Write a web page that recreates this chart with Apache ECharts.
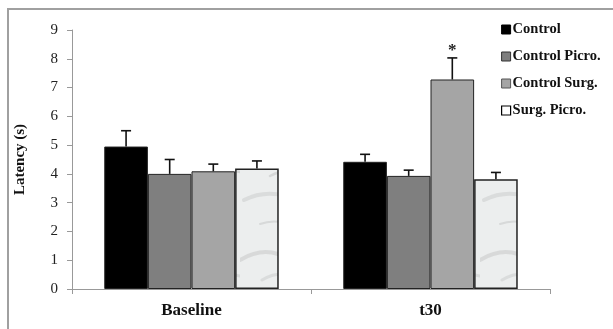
<!DOCTYPE html>
<html>
<head>
<meta charset="utf-8">
<script src="https://cdn.jsdelivr.net/npm/echarts@6/dist/echarts.min.js"></script>
</head>
<body style="margin:0;background:#fff">
<div id="main" style="width:613px;height:329px"></div>
<script>
// data
var categories = ['Baseline', 't30'];
var seriesNames = ['Control', 'Control Picro.', 'Control Surg.', 'Surg. Picro.'];
var controlMean = [4.95, 4.42];
var controlErr = [0.55, 0.26];
var picroMean = [4.0, 3.93];
var picroErr = [0.5, 0.2];
var surgMean = [4.09, 7.28];
var surgErr = [0.25, 0.75];
var surgPicroMean = [4.19, 3.81];
var surgPicroErr = [0.26, 0.24];
// significance marks: [series index, category index]
var stars = [[2, 1]];

var means = [controlMean, picroMean, surgMean, surgPicroMean];
var errs = [controlErr, picroErr, surgErr, surgPicroErr];
var fills = ['#000000', '#7f7f7f', '#a5a5a5', null];
var serif = '"Liberation Serif", "DejaVu Serif", serif';

// light marble-like texture for the last group
function marble() {
	var c = document.createElement('canvas');
	c.width = 60; c.height = 240;
	var g = c.getContext('2d');
	g.fillStyle = '#eceeee';
	g.fillRect(0, 0, 60, 240);
	// soft grey veins, running slightly diagonal
	var veins = [
		[0, 20, 20, 8, 38, 14, 0.16, 4],
		[22, 40, 38, 30, 60, 36, 0.14, 3],
		[6, 62, 20, 56, 30, 66, 0.2, 2],
		[30, 88, 44, 78, 60, 84, 0.16, 3],
		[0, 110, 16, 100, 34, 104, 0.13, 5],
		[14, 134, 34, 126, 52, 130, 0.2, 2],
		[0, 160, 12, 154, 26, 160, 0.15, 3],
		[30, 176, 44, 168, 60, 172, 0.18, 2.5],
		[4, 200, 24, 190, 46, 196, 0.14, 4],
		[20, 224, 36, 218, 54, 226, 0.17, 2]
	];
	veins.forEach(function(v) {
		g.strokeStyle = 'rgba(110,110,110,' + v[6] + ')';
		g.lineWidth = v[7];
		g.lineCap = 'round';
		g.beginPath();
		g.moveTo(v[0], v[1]);
		g.quadraticCurveTo(v[2], v[3], v[4], v[5]);
		g.stroke();
	});
	return c;
}
var texture = { image: marble(), repeat: 'repeat' };

var series = [];
seriesNames.forEach(function(name, i) {
	series.push({
		name: name,
		type: 'bar',
		barGap: 0,
		barCategoryGap: '27%',
		data: means[i],
		itemStyle: {
			color: fills[i] || texture,
			borderColor: '#222',
			borderWidth: i === 3 ? 1.5 : 1
		}
	});
});

// error bar data: [category, series, mean, mean+err, star]
var errData = [];
means.forEach(function(m, s) {
	m.forEach(function(v, c) {
		var star = stars.some(function(p) { return p[0] === s && p[1] === c; }) ? 1 : 0;
		errData.push([c, s, v, v + errs[s][c], star]);
	});
});

series.push({
	type: 'custom',
	z: 5,
	silent: true,
	data: errData,
	renderItem: function(params, api) {
		var c = api.value(0), s = api.value(1);
		var band = api.size([1, 0])[0];
		var bw = band * 0.73 / 4;
		var x = api.coord([c, 0])[0] + (s - 1.5) * bw;
		var yBot = api.coord([c, api.value(2)])[1];
		var yTop = api.coord([c, api.value(3)])[1];
		var st = { stroke: '#111', lineWidth: 1.6 };
		var kids = [
			{ type: 'line', shape: { x1: x, y1: yBot, x2: x, y2: yTop }, style: st },
			{ type: 'line', shape: { x1: x - 5, y1: yTop, x2: x + 5, y2: yTop }, style: st }
		];
		if (api.value(4)) {
			kids.push({
				type: 'text', x: x, y: yTop + 1,
				style: { text: '*', font: 'bold 17px ' + serif, fill: '#222', align: 'center', verticalAlign: 'bottom' }
			});
		}
		return { type: 'group', children: kids };
	}
});

var chart = echarts.init(document.getElementById('main'));
chart.setOption({
	animation: false,
	backgroundColor: '#fff',
	graphic: [{
		type: 'rect',
		shape: { x: 8, y: 9, width: 700, height: 400 },
		style: { fill: 'none', stroke: '#a0a0a0', lineWidth: 2 }
	}],
	grid: { left: 72, right: 63, top: 30, bottom: 40 },
	legend: {
		orient: 'vertical',
		left: 496,
		top: 17,
		itemWidth: 9,
		itemHeight: 9,
		itemGap: 12,
		icon: 'rect',
		textStyle: { fontFamily: serif, fontWeight: 'bold', fontSize: 14.5, color: '#111', padding: [0, 0, 0, -3] },
		data: [
			{ name: 'Control', itemStyle: { color: '#000', borderColor: '#000', borderWidth: 1 } },
			{ name: 'Control Picro.', itemStyle: { color: '#7f7f7f', borderColor: '#333', borderWidth: 1 } },
			{ name: 'Control Surg.', itemStyle: { color: '#a5a5a5', borderColor: '#555', borderWidth: 1 } },
			{ name: 'Surg. Picro.', itemStyle: { color: '#fff', borderColor: '#000', borderWidth: 1.2 } }
		]
	},
	xAxis: {
		type: 'category',
		data: categories,
		axisLine: { lineStyle: { color: '#999' } },
		axisTick: { show: true, length: 5, lineStyle: { color: '#999' } },
		axisLabel: { fontFamily: serif, fontWeight: 'bold', fontSize: 17, color: '#111', margin: 13 }
	},
	yAxis: {
		type: 'value',
		min: 0,
		max: 9,
		interval: 1,
		name: 'Latency (s)',
		nameLocation: 'middle',
		nameGap: 44,
		nameTextStyle: { fontFamily: serif, fontWeight: 'bold', fontSize: 15, color: '#111' },
		splitLine: { show: false },
		axisLine: { show: true, lineStyle: { color: '#999' } },
		axisTick: { show: true, length: 5, lineStyle: { color: '#999' } },
		axisLabel: { fontFamily: serif, fontSize: 15, color: '#222', margin: 14 }
	},
	series: series
});
</script>
</body>
</html>
